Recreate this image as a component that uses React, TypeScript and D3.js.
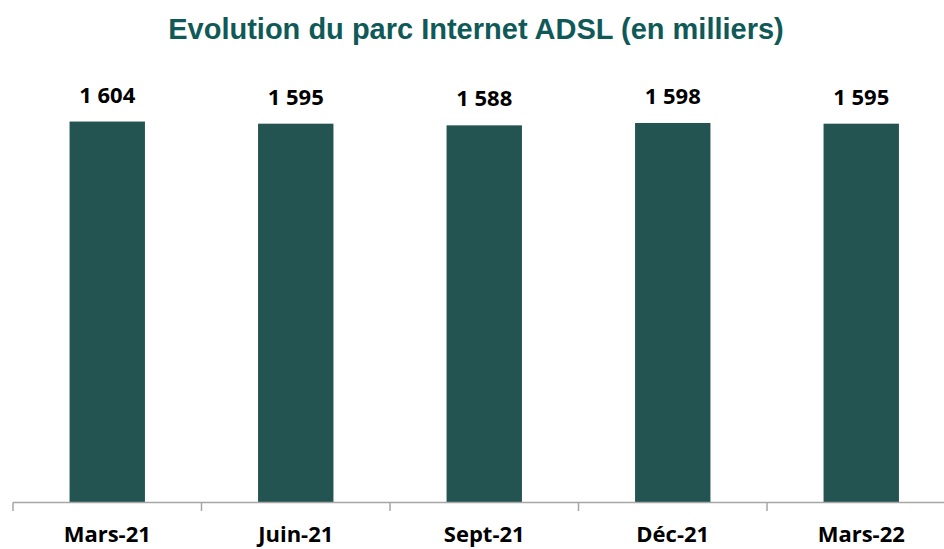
import React from "react";
import * as d3 from "d3";

const categories = ["Mars-21", "Juin-21", "Sept-21", "Déc-21", "Mars-22"];
const values = [1604, 1595, 1588, 1598, 1595];
const title = "Evolution du parc Internet ADSL (en milliers)";

const W = 944;
const H = 549;
const axisY = 502.5;
const x0 = 13;
const step = 188.5;

export default function App() {
  const x = d3
    .scaleBand<string>()
    .domain(categories)
    .range([x0, x0 + step * categories.length])
    .padding(0);
  const y = d3.scaleLinear().domain([0, 1800]).range([axisY, axisY - 1800 * 0.2375]);
  const bw = x.bandwidth();
  const barW = bw * 0.4;
  const ticks = categories.map((c) => x(c)!).concat([x0 + step * categories.length]);
  const font = "'Open Sans', sans-serif";

  return (
    <div style={{ position: "fixed", left: 0, top: 0 }}>
      <svg width={W} height={H} style={{ display: "block", background: "#fff" }}>
        <text
          x={476}
          y={38.5}
          textAnchor="middle"
          fontFamily="'Liberation Sans', Arial, sans-serif"
          fontWeight="bold"
          fontSize={29}
          fill="#0f5a58"
        >
          {title}
        </text>
        {categories.map((c, i) => {
          const cx = x(c)! + bw / 2;
          return (
            <g key={c}>
              <rect
                x={cx - barW / 2}
                y={y(values[i])}
                width={barW}
                height={axisY - y(values[i])}
                fill="#235451"
              />
              <text
                x={cx}
                y={y(values[i]) - 19}
                textAnchor="middle"
                fontFamily={font}
                fontWeight="bold"
                fontSize={22}
                fill="#000"
              >
                {d3.format(",")(values[i]).replace(",", " ")}
              </text>
              <text
                x={cx}
                y={542}
                textAnchor="middle"
                fontFamily={font}
                fontWeight="bold"
                fontSize={22}
                fill="#000"
              >
                {c}
              </text>
            </g>
          );
        })}
        <line x1={x0} x2={W} y1={axisY} y2={axisY} stroke="#a6a6a6" strokeWidth={1.5} />
        {ticks.map((t, i) => (
          <line key={i} x1={t} x2={t} y1={axisY} y2={axisY + 8.5} stroke="#a6a6a6" strokeWidth={1.5} />
        ))}
      </svg>
    </div>
  );
}
